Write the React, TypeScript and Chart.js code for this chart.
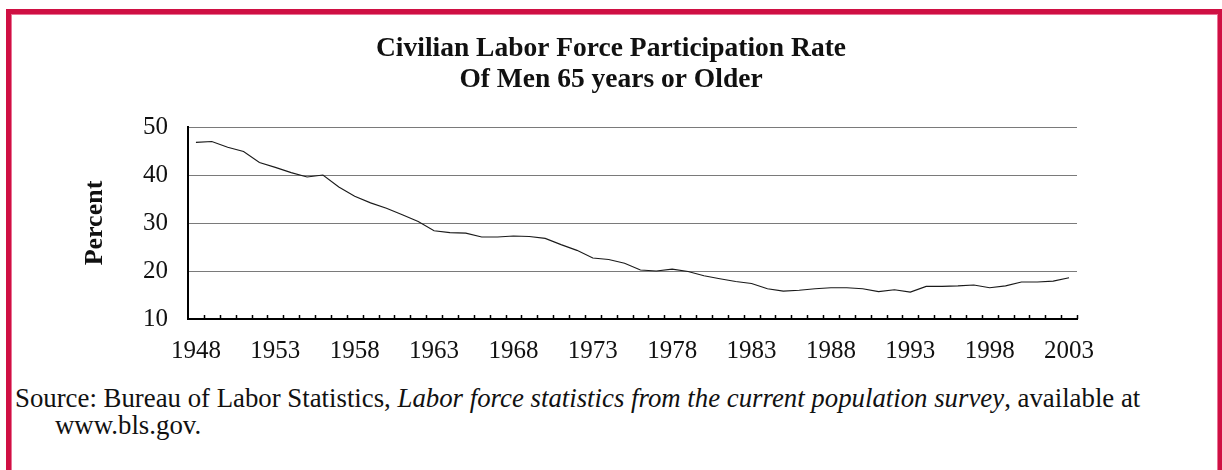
import React, { useEffect, useRef } from "react";
import { Chart, registerables } from "chart.js";

Chart.register(...registerables);

const years: string[] = [
  "1948", "1949", "1950", "1951", "1952", "1953", "1954", "1955", "1956", "1957",
  "1958", "1959", "1960", "1961", "1962", "1963", "1964", "1965", "1966", "1967",
  "1968", "1969", "1970", "1971", "1972", "1973", "1974", "1975", "1976", "1977",
  "1978", "1979", "1980", "1981", "1982", "1983", "1984", "1985", "1986", "1987",
  "1988", "1989", "1990", "1991", "1992", "1993", "1994", "1995", "1996", "1997",
  "1998", "1999", "2000", "2001", "2002", "2003",
];

const participationRate: number[] = [
  46.8, 47.0, 45.8, 44.9, 42.6, 41.6, 40.5, 39.6, 40.0, 37.5,
  35.6, 34.2, 33.1, 31.7, 30.3, 28.4, 28.0, 27.9, 27.1, 27.1,
  27.3, 27.2, 26.8, 25.5, 24.3, 22.7, 22.4, 21.6, 20.2, 20.0,
  20.4, 19.9, 19.0, 18.4, 17.8, 17.4, 16.3, 15.8, 16.0, 16.3,
  16.5, 16.5, 16.3, 15.7, 16.1, 15.6, 16.8, 16.8, 16.9, 17.1,
  16.5, 16.9, 17.7, 17.7, 17.9, 18.6,
];

const yTicks: number[] = [10, 20, 30, 40, 50];

const titleLines: string[] = [
  "Civilian Labor Force Participation Rate",
  "Of Men 65 years or Older",
];

const SERIF = "'Liberation Serif', 'Times New Roman', serif";

const innerTicksPlugin = {
  id: "innerTicks",
  afterDatasetsDraw(chart: any) {
    const xs = chart.scales.x;
    const ctx = chart.ctx;
    const n = xs.ticks.length;
    const step = xs.width / n;
    const y = xs.top;
    ctx.save();
    ctx.strokeStyle = "#000";
    ctx.lineWidth = 1.5;
    ctx.beginPath();
    for (let i = 1; i <= n; i++) {
      const x = Math.round(xs.left + i * step) + 0.5;
      ctx.moveTo(x, y);
      ctx.lineTo(x, y - 4);
    }
    ctx.stroke();
    ctx.restore();
  },
};

export default function App() {
  const ref = useRef<HTMLCanvasElement | null>(null);

  useEffect(() => {
    if (!ref.current) return;
    const chart = new Chart(ref.current, {
      type: "line",
      data: {
        labels: years,
        datasets: [
          {
            data: participationRate,
            borderColor: "#1a1a1a",
            borderWidth: 1.1,
            pointRadius: 0,
            tension: 0,
            fill: false,
          },
        ],
      },
      options: {
        responsive: false,
        animation: false,
        layout: { padding: 0 },
        plugins: {
          legend: { display: false },
          tooltip: { enabled: false },
          title: {
            display: true,
            text: titleLines,
            color: "#111",
            font: { family: SERIF, size: 27.5, weight: "bold", lineHeight: 1.13 },
            padding: { top: 33.5, bottom: 31.4 },
          },
        },
        scales: {
          x: {
            type: "category",
            offset: true,
            grid: { display: true, drawOnChartArea: false, drawTicks: false, offset: true },
            border: { display: true, color: "#000", width: 2 },
            ticks: {
              autoSkip: false,
              maxRotation: 0,
              minRotation: 0,
              padding: 17,
              color: "#111",
              font: { family: SERIF, size: 25 },
              callback: (_v: any, i: number) => (i % 5 === 0 ? years[i] : ""),
            },
            afterFit: (s: any) => {
              s.height = 61;
            },
          },
          y: {
            type: "linear",
            position: "left",
            min: 10,
            max: 50,
            afterBuildTicks: (s: any) => {
              s.ticks = yTicks.map((v) => ({ value: v }));
            },
            grid: { color: "#7a7a7a", lineWidth: 1, drawTicks: false },
            border: { display: true, color: "#000", width: 2 },
            ticks: {
              padding: 20,
              color: "#111",
              font: { family: SERIF, size: 25 },
            },
            title: {
              display: true,
              text: "Percent",
              color: "#111",
              font: { family: SERIF, size: 26, weight: "bold" },
              padding: { top: 80, bottom: 0 },
            },
            afterFit: (s: any) => {
              s.width = 188;
            },
          },
          yRight: {
            type: "linear",
            position: "right",
            display: true,
            grid: { display: false, drawTicks: false },
            border: { display: false },
            ticks: { display: false },
            afterFit: (s: any) => {
              s.width = 145;
            },
          },
        },
      },
      plugins: [innerTicksPlugin],
    });
    return () => chart.destroy();
  }, []);

  return (
    <div
      style={{
        position: "absolute",
        left: 0,
        top: 0,
        width: 1222,
        height: 470,
        overflow: "hidden",
        background: "#fff",
        fontFamily: SERIF,
      }}
    >
      <div
        style={{
          position: "absolute",
          left: 6,
          top: 9,
          width: 1217,
          height: 500,
          boxSizing: "border-box",
          border: "5px solid #cf1043",
          boxShadow: "inset 0 0 0 1px #ea7396",
        }}
      />
      <canvas
        ref={ref}
        width={1222}
        height={380}
        style={{ position: "absolute", left: 0, top: 0, width: 1222, height: 380 }}
      />
      <div
        style={{
          position: "absolute",
          left: 15,
          top: 385,
          fontSize: 26.8,
          lineHeight: "27px",
          color: "#111",
          whiteSpace: "nowrap",
        }}
      >
        Source: Bureau of Labor Statistics,{" "}
        <i>Labor force statistics from the current population survey</i>, available at
      </div>
      <div
        style={{
          position: "absolute",
          left: 55,
          top: 412,
          fontSize: 26.8,
          lineHeight: "27px",
          color: "#111",
          whiteSpace: "nowrap",
        }}
      >
        www.bls.gov.
      </div>
    </div>
  );
}
